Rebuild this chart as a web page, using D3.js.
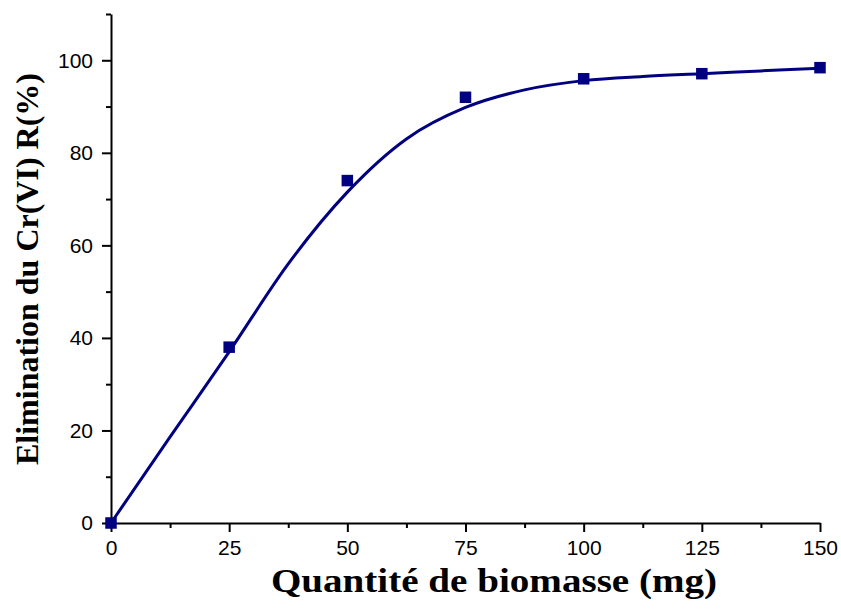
<!DOCTYPE html>
<html>
<head>
<meta charset="utf-8">
<script src="https://cdn.jsdelivr.net/npm/d3@7"></script>
<style>
  html, body { margin: 0; padding: 0; background: #fff; }
  svg { display: block; }
</style>
</head>
<body>
<svg id="chart" width="841" height="610"></svg>
<script>
// Measured data (markers)
const doseMg = [0, 25, 50, 75, 100, 125, 150];
const removalPct = [0, 38, 74, 92, 96, 97.1, 98.4];

// Fitted curve
const fitDose = [0, 12.5, 25, 37.5, 50, 62.5, 75, 87.5, 100, 112.5, 125, 137.5, 150];
const fitRemoval = [0, 18.6, 37, 56, 71.5, 83, 89.8, 93.6, 95.6, 96.5, 97.1, 97.7, 98.3];

// Tick labels
const xTicks = [0, 25, 50, 75, 100, 125, 150];
const xMinorTicks = [12.5, 37.5, 62.5, 87.5, 112.5, 137.5];
const yTicks = [0, 20, 40, 60, 80, 100];
const yMinorTicks = [10, 30, 50, 70, 90, 110];

const xTitle = "Quantité de biomasse (mg)";
const yTitle = "Elimination du Cr(VI) R(%)";

const svg = d3.select("#chart");
const x = d3.scaleLinear().domain([0, 150]).range([111, 820]);
const y = d3.scaleLinear().domain([0, 110]).range([523, 14]);

const navy = "#000080";
const tickFont = "'Liberation Sans', Arial, sans-serif";
const titleFont = "'Liberation Serif', 'Times New Roman', serif";

// X axis
const gx = svg.append("g").attr("transform", `translate(0,${y(0)})`);
gx.call(d3.axisBottom(x).tickValues(xMinorTicks).tickSize(5).tickFormat(""));
gx.call(g => g.select(".domain").remove());
const gx2 = svg.append("g").attr("transform", `translate(0,${y(0)})`);
gx2.call(d3.axisBottom(x).tickValues(xTicks).tickSize(9).tickSizeOuter(0).tickPadding(8).tickFormat(d3.format("d")));
[gx, gx2].forEach(g => {
  g.selectAll("line").attr("stroke", "#000").attr("stroke-width", 2);
  g.selectAll(".domain").attr("stroke", "#000").attr("stroke-width", 2);
  g.selectAll("text").attr("font-family", tickFont).attr("font-size", 21).attr("fill", "#000");
});

// Y axis
const gy = svg.append("g").attr("transform", `translate(${x(0)},0)`);
gy.call(d3.axisLeft(y).tickValues(yMinorTicks).tickSize(5).tickFormat(""));
gy.call(g => g.select(".domain").remove());
const gy2 = svg.append("g").attr("transform", `translate(${x(0)},0)`);
gy2.call(d3.axisLeft(y).tickValues(yTicks).tickSize(9).tickSizeOuter(0).tickPadding(9).tickFormat(d3.format("d")));
[gy, gy2].forEach(g => {
  g.selectAll("line").attr("stroke", "#000").attr("stroke-width", 2);
  g.selectAll(".domain").attr("stroke", "#000").attr("stroke-width", 2);
  g.selectAll("text").attr("font-family", tickFont).attr("font-size", 21).attr("fill", "#000");
});

// Fitted curve
const fitData = fitDose.map((d, i) => [d, fitRemoval[i]]);
svg.append("path")
  .datum(fitData)
  .attr("fill", "none")
  .attr("stroke", navy)
  .attr("stroke-width", 3)
  .attr("d", d3.line().x(d => x(d[0])).y(d => y(d[1])).curve(d3.curveMonotoneX));

// Markers
const ms = 11.5;
svg.append("g").selectAll("rect")
  .data(doseMg.map((d, i) => [d, removalPct[i]]))
  .join("rect")
  .attr("x", d => x(d[0]) - ms / 2)
  .attr("y", d => y(d[1]) - ms / 2)
  .attr("width", ms)
  .attr("height", ms)
  .attr("fill", navy);

// Titles
svg.append("text")
  .attr("transform", "translate(494,592) scale(1.15,1)")
  .attr("text-anchor", "middle")
  .attr("font-family", titleFont)
  .attr("font-weight", "bold")
  .attr("font-size", 34)
  .attr("fill", "#000")
  .text(xTitle);

svg.append("text")
  .attr("transform", "translate(38,269) rotate(-90)")
  .attr("text-anchor", "middle")
  .attr("font-family", titleFont)
  .attr("font-weight", "bold")
  .attr("font-size", 32)
  .attr("fill", "#000")
  .text(yTitle);
</script>
</body>
</html>
